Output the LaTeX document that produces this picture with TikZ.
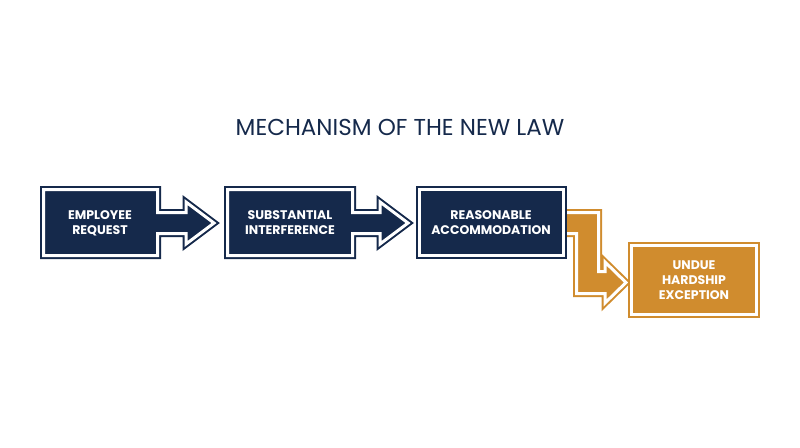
\documentclass[tikz,border=0pt]{standalone}
\usepackage{fontspec}
\setmainfont{Poppins}
\definecolor{navy}{HTML}{15294B}
\definecolor{gold}{HTML}{D08C2E}
\begin{document}
\begin{tikzpicture}[x=1pt,y=-1pt,
  shp/.style={preaction={fill=#1},preaction={draw=#1,line width=7pt,line join=miter},draw=white,line width=3pt,line join=miter},
  lbl/.style={text=white,font=\fontsize{12.5}{15}\selectfont\bfseries,align=center}]
\useasboundingbox (0,0) rectangle (800,447);
\node[text=navy,font=\fontsize{23}{27}\selectfont] (title) at (400,127) {MECHANISM OF THE NEW LAW};
\path[shp=navy] (43.5,189.5)--(157.5,189.5)--(157.5,212.5)--(186,212.5)--(186,202)--(214,223)--(186,244)--(186,233.5)--(157.5,233.5)--(157.5,255.5)--(43.5,255.5)--cycle;
\path[shp=navy] (227.5,189.5)--(352.5,189.5)--(352.5,212.5)--(380,212.5)--(380,202)--(408,223)--(380,244)--(380,233.5)--(352.5,233.5)--(352.5,255.5)--(227.5,255.5)--cycle;
\path[shp=gold] (540,212.5)--(598.5,212.5)--(598.5,271.5)--(605,271.5)--(605,262)--(626,282.5)--(605,303)--(605,293.5)--(576.5,293.5)--(576.5,233.5)--(540,233.5)--cycle;
\path[shp=navy] (419.5,189.5) rectangle (563.5,255.5);
\path[shp=gold] (631.5,245.5) rectangle (756.5,314.5);
\node[lbl] (a) at (100,223) {EMPLOYEE\\REQUEST};
\node[lbl] (b) at (290,223) {SUBSTANTIAL\\INTERFERENCE};
\node[lbl] (c) at (491,223) {REASONABLE\\ACCOMMODATION};
\node[lbl] (d) at (694,280) {UNDUE\\HARDSHIP\\EXCEPTION};
\end{tikzpicture}
\end{document}
